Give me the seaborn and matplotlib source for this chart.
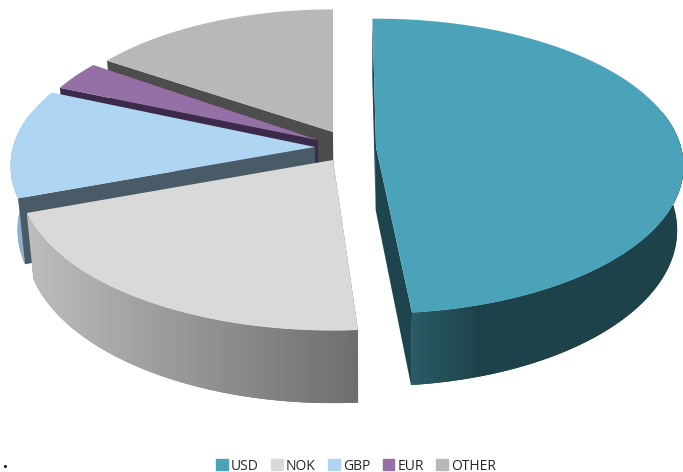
import numpy as np
import seaborn as sns
import matplotlib.pyplot as plt
from matplotlib.colors import LinearSegmentedColormap
from matplotlib.patches import Patch, Polygon

currencies = ['USD', 'NOK', 'GBP', 'EUR', 'OTHER']
shares = [48.75, 21.25, 11.4, 3.9, 14.7]

top_colors = ['#4BA3BA', '#D9D9D9', '#AED6F3', '#9570A6', '#B8B8B8']
face_colors = ['#1E454E', '#6E6E6E', '#4A5B68', '#3B2A4A', '#4D4D4D']
rim_stops = [
    [(0, '#2B5C67'), (0.25, '#1E424A'), (1, '#1E424A')],
    [(0, '#BDBDBD'), (1, '#6E6E6E')],
    [(0, '#8DB0CC'), (1, '#8DB0CC')],
    [(0, '#3B2A4A'), (1, '#3B2A4A')],
    [(0, '#4D4D4D'), (1, '#4D4D4D')],
]

# where each exploded slice has its tip, in pixels
tips = {'USD': (376, 147), 'NOK': (333, 160), 'GBP': (315, 147), 'EUR': (318, 140), 'OTHER': (333, 132)}
radius_scale = {'USD': 1.0, 'NOK': 1.02, 'GBP': 0.99, 'EUR': 0.965, 'OTHER': 0.95}
# small corrections in degrees (start, end), the original has real perspective
nudge = {'USD': (1.25, 0.6), 'NOK': (2.5, 0), 'GBP': (0, 2.5), 'EUR': (2, 0), 'OTHER': (-1.5, 2)}

RX = 305
RY = 145
PERSP = 0.13
DEPTH = 63
START = -2
VANISH_X = 360
SHRINK = 0.02


def project(tip, theta, r=1.0):
    th = np.radians(theta)
    x = r * np.sin(th)
    y = r * np.cos(th)
    s = 1 / (1 + PERSP * y)
    return tip[0] + RX * x * s, tip[1] - RY * y * s, s


def drop(x, y, s):
    # bottom of the pie, nearer parts are taller and edges lean in towards the middle
    x = np.asarray(x, dtype=float)
    return x + (VANISH_X - x) * SHRINK, np.asarray(y, dtype=float) + DEPTH * s


sns.set_theme(style='white')
plt.rcParams['font.family'] = ['Open Sans', 'DejaVu Sans']

fig, ax = plt.subplots(figsize=(6.83, 4.72), dpi=100)
fig.subplots_adjust(0, 0, 1, 1)

edges = START + np.cumsum([0] + shares) / sum(shares) * 360

# back slices first, USD last so it sits on top
z = 1
for i in [4, 3, 2, 1, 0]:
    name = currencies[i]
    tip = tips[name]
    scale = radius_scale[name]
    thetas = np.linspace(edges[i] + nudge[name][0], edges[i + 1] + nudge[name][1], 200)
    xs, ys, ss = project(tip, thetas, scale)
    bx, by = drop(xs, ys, ss)

    # side of the pie, only the front part can be seen
    front = np.cos(np.radians(thetas)) < 0.25
    if front.sum() > 1:
        px = np.r_[xs[front], bx[front][::-1]]
        py = np.r_[ys[front], by[front][::-1]]
        outline = Polygon(np.c_[px, py], closed=True, transform=ax.transData,
                          facecolor=rim_stops[i][-1][1], lw=0, zorder=z)
        ax.add_patch(outline)
        cmap = LinearSegmentedColormap.from_list(name, rim_stops[i])
        im = ax.imshow(np.linspace(0, 1, 256)[None, :], cmap=cmap, aspect='auto',
                       extent=(px.min(), px.max(), py.max(), py.min()), zorder=z)
        im.set_clip_path(outline)

    # cut faces, USD shows both edges and the others only their leading edge
    tx, ty = drop(tip[0], tip[1], 1.0)
    for k in ([0, -1] if i == 0 else [0]):
        ax.fill([tip[0], xs[k], bx[k], tx], [tip[1], ys[k], by[k], ty],
                color=face_colors[i], lw=0, zorder=z + 0.1)

    ax.fill(np.r_[tip[0], xs], np.r_[tip[1], ys], color=top_colors[i], lw=0, zorder=z + 0.2)
    z += 1

ax.set_xlim(0, 683)
ax.set_ylim(472, 0)
ax.axis('off')

handles = [Patch(color=c, label=n) for c, n in zip(top_colors, currencies)]
ax.legend(handles=handles, loc='center', bbox_to_anchor=(356 / 683, 1 - 466 / 472), ncol=5,
          frameon=False, fontsize=10, handlelength=0.85, handleheight=0.85,
          handletextpad=0.2, columnspacing=0.9, borderpad=0)
ax.text(5, 463, '.', fontsize=12, fontweight='bold', color='black', ha='center', va='center')

fig.savefig('out.png', dpi=100)
